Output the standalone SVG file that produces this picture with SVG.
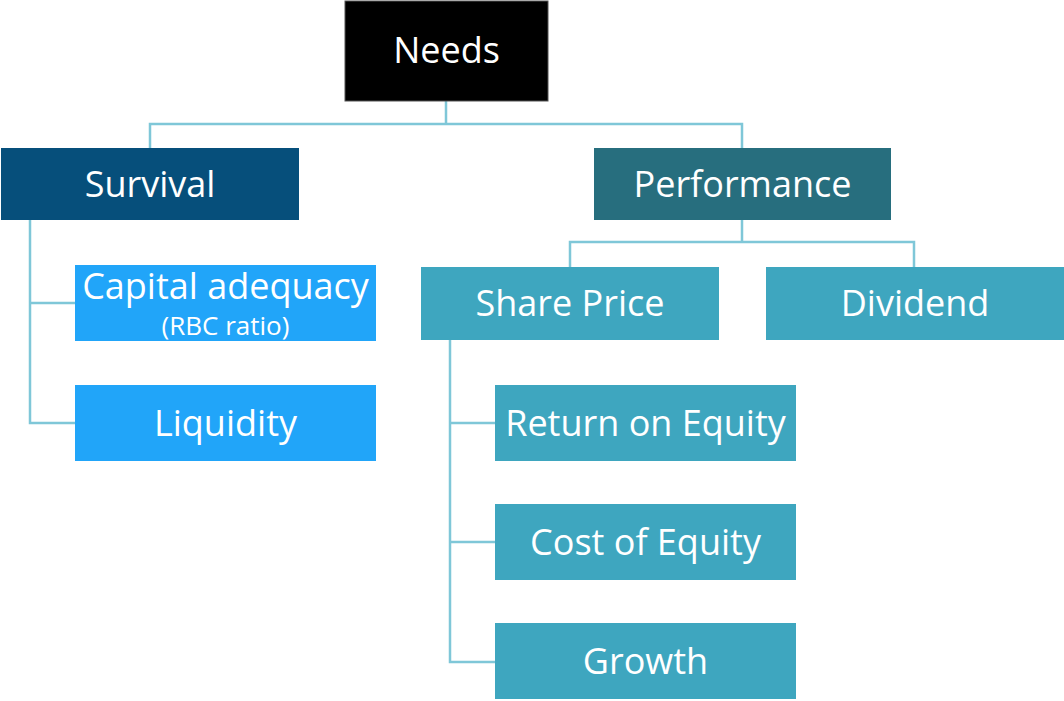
<svg xmlns="http://www.w3.org/2000/svg" width="1064" height="701" viewBox="0 0 1064 701">
  <style>
    .lbl { font-family: "Open Sans", "Liberation Sans", sans-serif; fill: #ffffff; text-anchor: middle; font-size: 36px; }
    .sub { font-size: 26px; }
    .conn { fill: none; stroke: #7fc7d8; stroke-width: 2.5; }
    .root { fill: #000000; stroke: #555555; stroke-width: 1; }
    .l1a { fill: #064f7b; }
    .l1b { fill: #276e7e; }
    .l2a { fill: #21a5f9; }
    .l2b { fill: #3ea6bf; }
  </style>

  <g id="connectors">
    <path class="conn" d="M446 101 V124 M150 148 V124 H742 V148"/>
    <path class="conn" d="M742 220 V242 M570 267 V242 H914 V267"/>
    <path class="conn" d="M30 220 V423 H75 M30 303 H75"/>
    <path class="conn" d="M450 340 V662 H495 M450 423 H495 M450 542 H495"/>
  </g>

  <g id="needs">
    <rect class="root" x="345" y="1" width="203" height="100"/>
    <text class="lbl" x="446.5" y="63">Needs</text>
  </g>

  <g id="survival">
    <rect class="l1a" x="1" y="148" width="298" height="72"/>
    <text class="lbl" x="150" y="197">Survival</text>
  </g>

  <g id="performance">
    <rect class="l1b" x="594" y="148" width="297" height="72"/>
    <text class="lbl" x="742.5" y="197">Performance</text>
  </g>

  <g id="capital-adequacy">
    <rect class="l2a" x="75" y="265" width="301" height="76"/>
    <text class="lbl" x="225.5" y="299">Capital adequacy</text>
    <text class="lbl sub" x="225.5" y="335">(RBC ratio)</text>
  </g>

  <g id="liquidity">
    <rect class="l2a" x="75" y="385" width="301" height="76"/>
    <text class="lbl" x="225.5" y="436">Liquidity</text>
  </g>

  <g id="share-price">
    <rect class="l2b" x="421" y="267" width="298" height="73"/>
    <text class="lbl" x="570" y="316">Share Price</text>
  </g>

  <g id="dividend">
    <rect class="l2b" x="766" y="267" width="298" height="73"/>
    <text class="lbl" x="915" y="316">Dividend</text>
  </g>

  <g id="return-on-equity">
    <rect class="l2b" x="495" y="385" width="301" height="76"/>
    <text class="lbl" x="645.5" y="436">Return on Equity</text>
  </g>

  <g id="cost-of-equity">
    <rect class="l2b" x="495" y="504" width="301" height="76"/>
    <text class="lbl" x="645.5" y="555">Cost of Equity</text>
  </g>

  <g id="growth">
    <rect class="l2b" x="495" y="623" width="301" height="76"/>
    <text class="lbl" x="645.5" y="674">Growth</text>
  </g>
</svg>
